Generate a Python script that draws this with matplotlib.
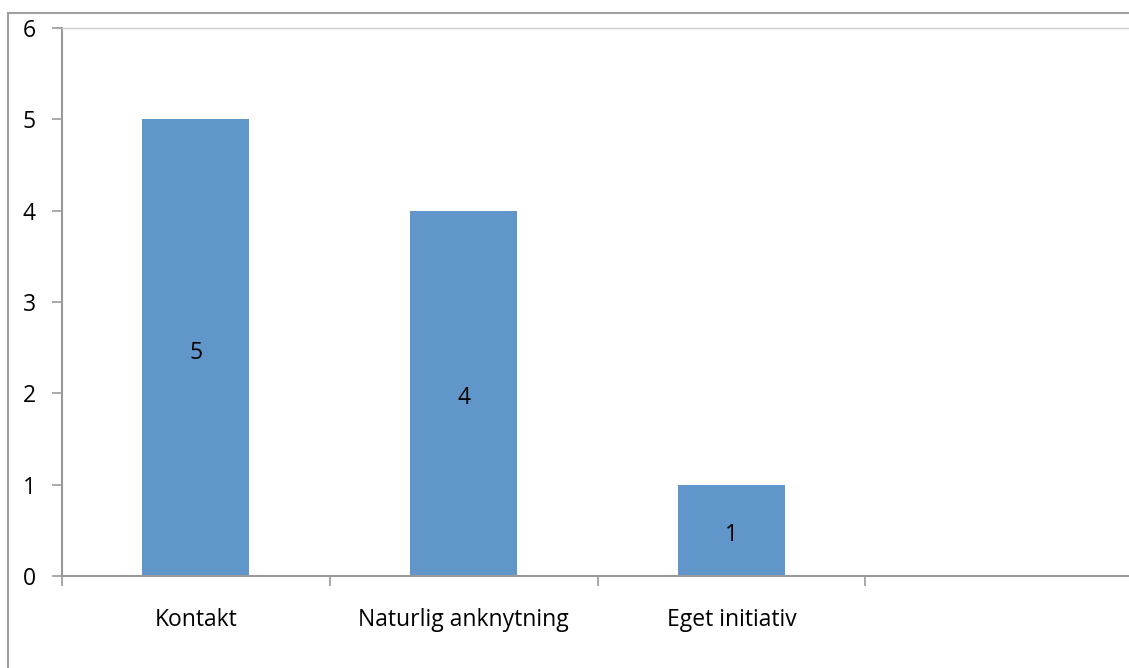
import matplotlib.pyplot as plt
from matplotlib.patches import Rectangle

# Antal svar per kategori
categories = ["Kontakt", "Naturlig anknytning", "Eget initiativ"]
values = [5, 4, 1]
n_slots = 4  # axeln har en tom fjärde kategori

plt.rcParams['font.family'] = ['Open Sans', 'DejaVu Sans']
fs = 16.5

fig = plt.figure(figsize=(11.29, 6.68), dpi=100)
ax = fig.add_axes([62 / 1129, 1 - 576 / 668, 1071 / 1129, 548 / 668])

x = list(range(len(categories)))
bars = ax.bar(x, values, width=0.4, color='#6096C9', zorder=2)
for b, v in zip(bars, values):
    ax.annotate(str(v), (b.get_x() + b.get_width() / 2, v / 2),
                xytext=(0, -3.5), textcoords='offset points',
                ha='center', va='center', fontsize=fs, color='black')

ax.set_xlim(-0.5, n_slots - 0.5)
ax.set_ylim(0, 6)
ax.set_yticks(range(0, 7))

# kategorinamn i mitten, streck vid gränserna
ax.set_xticks(x)
ax.set_xticklabels(categories, fontsize=fs)
ax.set_xticks([i - 0.5 for i in range(n_slots)], minor=True)
ax.tick_params(axis='x', which='major', length=0, pad=23)
ax.tick_params(axis='x', which='minor', length=7, width=1.2, color='#999999')
ax.tick_params(axis='y', length=7, width=1.2, color='#999999', pad=12, labelsize=fs)

for side in ('left', 'bottom'):
    ax.spines[side].set_color('#999999')
    ax.spines[side].set_linewidth(1.5)
ax.spines['top'].set_color('#cccccc')
ax.spines['top'].set_linewidth(1.0)
ax.spines['right'].set_visible(False)

# ram runt hela diagrammet
fig.add_artist(Rectangle((8 / 1129, -0.1), 1.2, 1 - 13 / 668 + 0.1,
                         transform=fig.transFigure, fill=False,
                         edgecolor='#a0a0a0', linewidth=1.5, clip_on=False))

fig.savefig('out.png', dpi=100)
